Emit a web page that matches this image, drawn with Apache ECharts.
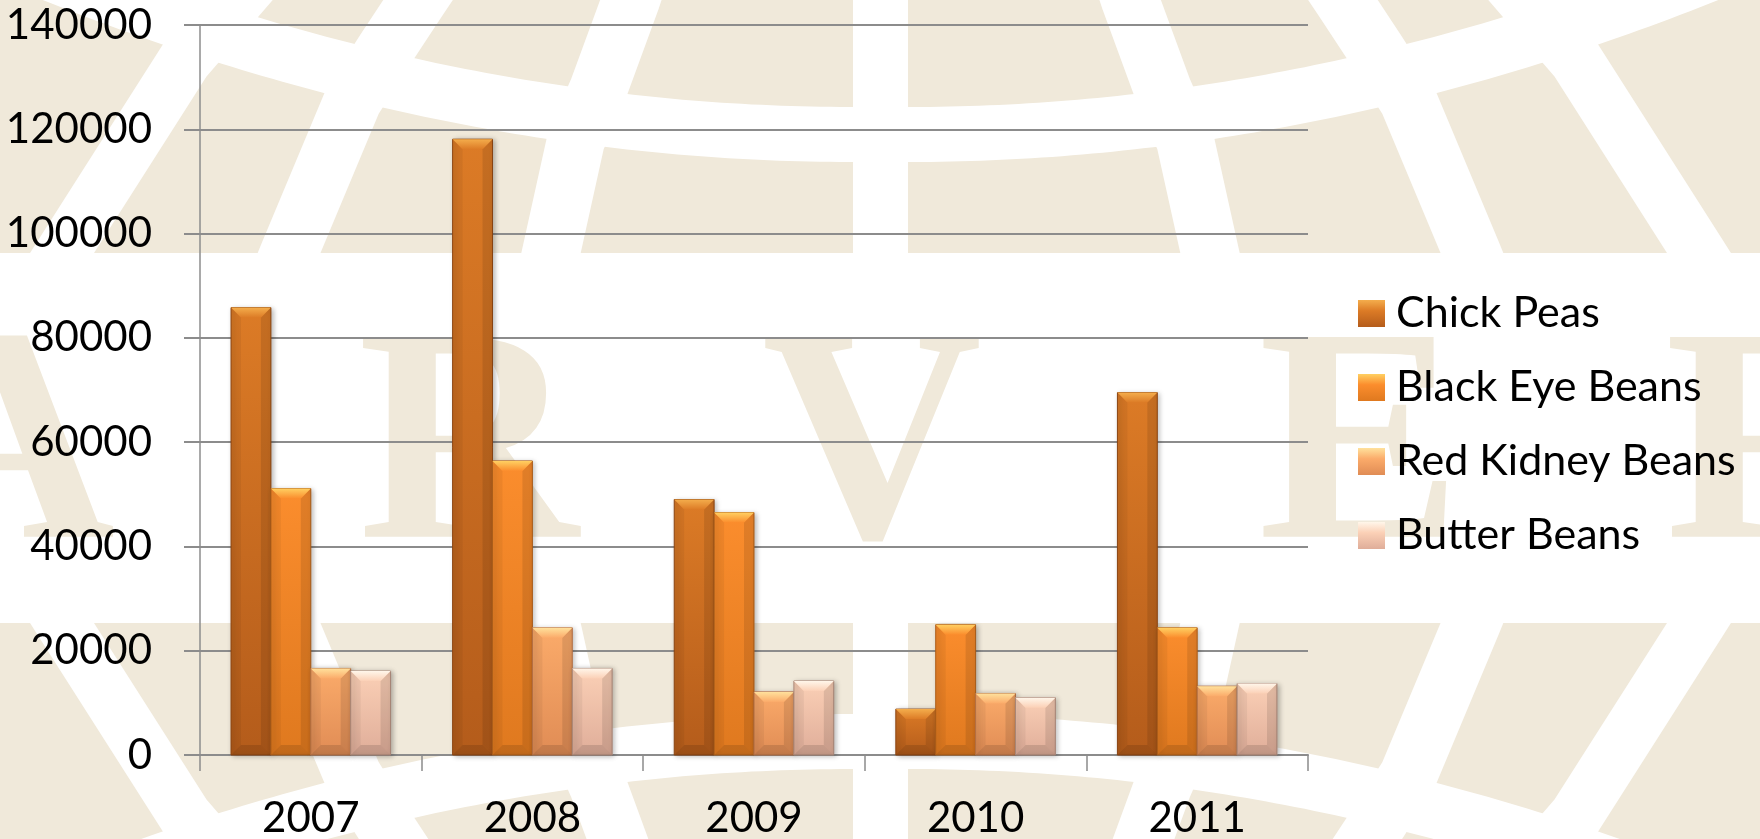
<!DOCTYPE html>
<html>
<head>
<meta charset="utf-8">
<script src="https://cdn.jsdelivr.net/npm/echarts@6/dist/echarts.min.js"></script>
<style>
html,body{margin:0;padding:0;background:#ffffff;}
#chart{width:1760px;height:839px;}
</style>
</head>
<body>
<div id="chart"></div>
<script>
// ---- data ----
const years = ['2007', '2008', '2009', '2010', '2011'];
const seriesNames = ['Chick Peas', 'Black Eye Beans', 'Red Kidney Beans', 'Butter Beans'];
const chickPeas = [85800, 118100, 49000, 8800, 69500];
const blackEyeBeans = [51100, 56400, 46500, 25000, 24400];
const redKidneyBeans = [16600, 24400, 12100, 11800, 13200];
const butterBeans = [16100, 16600, 14200, 11000, 13700];
const yTicks = { min: 0, max: 140000, interval: 20000 };

// ---- styles ----
const palettes = [
  { hi: '#f4ad4c', top: '#dc7b26', bottom: '#b45c1b', edge: '#8f4713' },
  { hi: '#ffd062', top: '#fb8d2d', bottom: '#df791f', edge: '#b0601a' },
  { hi: '#ffe19c', top: '#fbab6a', bottom: '#e08c55', edge: '#b87246' },
  { hi: '#fff6ea', top: '#fbd0b6', bottom: '#dfad99', edge: '#ad8a7b' }
];
const BEIGE = '#f0e9da';
const FONT = 'Lato';

function vgrad(stops) {
  return { type: 'linear', x: 0, y: 0, x2: 0, y2: 1,
    colorStops: stops.map(c => ({ offset: c[0], color: c[1] })) };
}

function makeRender(s) {
  const pal = palettes[s];
  return function (params, api) {
    const cat = api.value(0), val = api.value(1);
    const base = api.coord([cat, 0]);
    const top = api.coord([cat, val]);
    const band = api.size([1, 0])[0];
    const w = band * 0.18;
    const x = base[0] - 2 * w + s * w;
    const y0 = top[1], y1 = base[1];
    const h = y1 - y0;
    const b = Math.min(10, h / 2, w / 2);
    return {
      type: 'group',
      children: [
        { type: 'rect', shape: { x: x, y: y0, width: w, height: h },
          style: { fill: vgrad([[0, pal.top], [1, pal.bottom]]), stroke: pal.edge, lineWidth: 1,
                   shadowBlur: 5, shadowColor: 'rgba(0,0,0,0.28)', shadowOffsetX: 2, shadowOffsetY: 1 } },
        { type: 'polygon', shape: { points: [[x, y0], [x + b, y0 + b], [x + b, y1 - b], [x, y1]] },
          style: { fill: 'rgba(0,0,0,0.05)' } },
        { type: 'polygon', shape: { points: [[x + w, y0], [x + w - b, y0 + b], [x + w - b, y1 - b], [x + w, y1]] },
          style: { fill: 'rgba(0,0,0,0.10)' } },
        { type: 'polygon', shape: { points: [[x, y1], [x + b, y1 - b], [x + w - b, y1 - b], [x + w, y1]] },
          style: { fill: 'rgba(0,0,0,0.12)' } },
        { type: 'polygon', shape: { points: [[x, y0], [x + w, y0], [x + w - b, y0 + b], [x + b, y0 + b]] },
          style: { fill: vgrad([[0, pal.hi], [1, pal.top]]) } }
      ]
    };
  };
}

const valueLists = [chickPeas, blackEyeBeans, redKidneyBeans, butterBeans];
const series = valueLists.map((vals, s) => ({
  name: seriesNames[s],
  type: 'custom',
  renderItem: makeRender(s),
  encode: { x: 0, y: 1 },
  itemStyle: { color: vgrad([[0, palettes[s].hi], [0.4, palettes[s].top], [1, palettes[s].bottom]]) },
  data: vals.map((v, i) => [i, v]),
  z: 3
}));

// ---- background watermark (decoration) ----
const W = 1760, CX = 880.5, MY = 876;
const bg = [];
function add(el) { el.z = -100; el.silent = true; bg.push(el); }
add({ type: 'rect', shape: { x: 0, y: 0, width: W, height: 253 }, style: { fill: BEIGE } });
add({ type: 'rect', shape: { x: 0, y: 623, width: W, height: 216 }, style: { fill: BEIGE } });
const meridians = [
  { pts: [[880.5, -40], [880.5, 280]], w: 55 },
  { pts: [[641, -30], [631, 0], [598, 90], [576, 140], [551, 253], [545, 280]], w: 58 },
  { pts: [[438, -30], [418, 0], [385, 50], [353, 100], [289, 253], [278, 280]], w: 58 },
  { pts: [[263, -30], [237, 0], [185, 60], [62, 253], [45, 280]], w: 54 }
];
meridians.forEach(m => {
  const variants = [
    m.pts,
    m.pts.map(p => [2 * CX - p[0], p[1]]),
    m.pts.map(p => [p[0], MY - p[1]]),
    m.pts.map(p => [2 * CX - p[0], MY - p[1]])
  ];
  variants.forEach(pts => add({ type: 'polyline', shape: { points: pts },
    style: { stroke: '#ffffff', lineWidth: m.w, fill: null, lineCap: 'butt', lineJoin: 'round' } }));
});
const arcUp = [], arcDown = [];
for (let x = -60; x <= W + 60; x += 10) {
  const dx = Math.max(0, Math.abs(x - CX) - 27.5);
  const y = 134.5 - 2.5e-4 * dx * dx;
  arcUp.push([x, y]);
  arcDown.push([x, MY - y]);
}
add({ type: 'polyline', shape: { points: arcUp }, style: { stroke: '#ffffff', lineWidth: 55, fill: null } });
add({ type: 'polyline', shape: { points: arcDown }, style: { stroke: '#ffffff', lineWidth: 55, fill: null } });
const letters = [['A', 5], ['R', 468], ['V', 872], ['E', 1360], ['R', 1775]];
letters.forEach(l => add({ type: 'text', x: l[1], y: 458,
  style: { text: l[0], fill: BEIGE, font: 'bold 305px "Liberation Serif"', textAlign: 'center', textVerticalAlign: 'middle' } }));

// ---- chart ----
const chart = echarts.init(document.getElementById('chart'), null, { renderer: 'canvas' });
const axisColor = '#8c8c8c';
chart.setOption({
  backgroundColor: 'transparent',
  animation: false,
  graphic: { elements: bg },
  grid: { left: 200, right: 452, top: 25, bottom: 83, containLabel: false },
  legend: {
    orient: 'vertical', left: 1358, top: 292, padding: 0,
    icon: 'rect', itemWidth: 27, itemHeight: 27, itemGap: 31,
    data: seriesNames,
    textStyle: { fontFamily: FONT, fontSize: 43, color: '#000', lineHeight: 40, padding: [0, 0, 0, 6] }
  },
  xAxis: {
    type: 'category', data: years,
    axisLine: { show: true, lineStyle: { color: axisColor, width: 2 } },
    axisTick: { show: true, length: 16, interval: 0, lineStyle: { color: axisColor, width: 1.5 } },
    axisLabel: { fontFamily: FONT, fontSize: 42, color: '#000', margin: 42, interval: 0 },
    splitLine: { show: false }
  },
  yAxis: {
    type: 'value', min: yTicks.min, max: yTicks.max, interval: yTicks.interval,
    axisLine: { show: true, lineStyle: { color: axisColor, width: 1.5 } },
    axisTick: { show: true, length: 16, lineStyle: { color: axisColor, width: 2 } },
    axisLabel: { fontFamily: FONT, fontSize: 42, color: '#000', margin: 48,
                 formatter: v => String(v) },
    splitLine: { show: true, lineStyle: { color: axisColor, width: 2 } }
  },
  series: series
});
</script>
</body>
</html>
